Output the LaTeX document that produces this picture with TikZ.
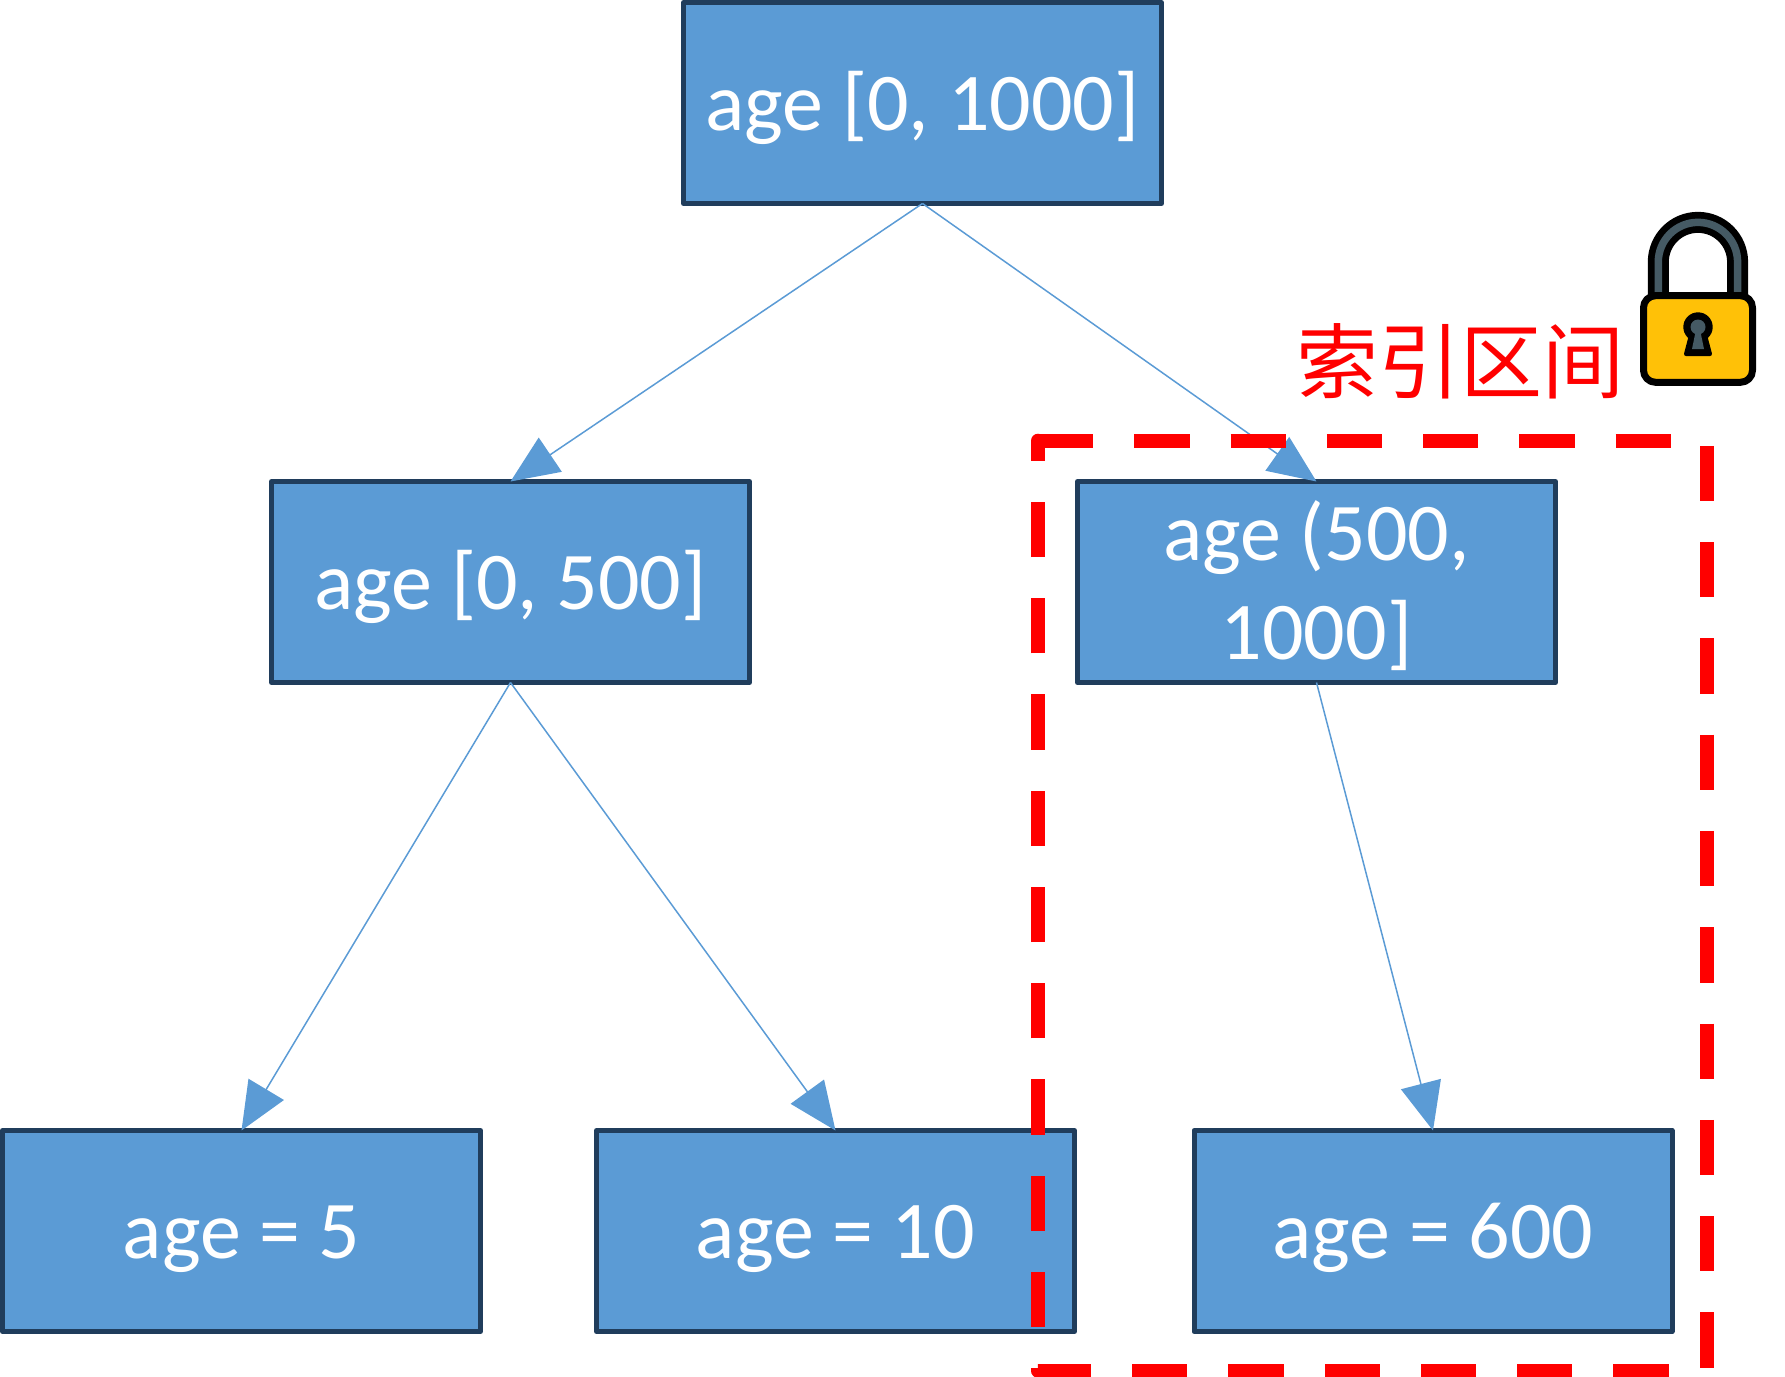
\documentclass[tikz,border=0pt]{standalone}
\usepackage{fontspec}
\setmainfont{Carlito}
\newfontfamily\cjkfont{Noto Sans CJK SC}
\usepackage{tikz}
\usetikzlibrary{arrows.meta}

\definecolor{boxfill}{HTML}{5B9BD5}
\definecolor{boxline}{HTML}{203D5C}
\definecolor{lockbody}{HTML}{FFC107}
\definecolor{lockgrey}{HTML}{455A64}

\tikzset{
    agebox/.style={draw=boxline,fill=boxfill,line width=2.5pt,line join=round,
        minimum width=239pt,minimum height=100.5pt,inner sep=0pt,outer sep=0pt,
        text=white,align=center,font=\fontsize{41}{49.5}\selectfont},
    ageline/.style={agebox,text height=27.5pt,text depth=0pt},
    agelink/.style={draw=boxfill,line width=.75pt,
        -{Triangle[length=24pt,width=20.5pt,fill=boxfill]}},
    rangeline/.style={draw=red,line width=7pt,line join=round,
        dash pattern=on 27.65pt off 20.485pt},
    rangetext/.style={text=red,inner sep=0pt,font=\fontsize{41}{41}\cjkfont}
}

\begin{document}
\begin{tikzpicture}[x=.5pt,y=-.5pt]
    \useasboundingbox (0,0) rectangle (1785,1377);

    \node[ageline] (root) at (922.5,103) {age [0, 1000]};
    \node[ageline] (low) at (510.5,582) {age [0, 500]};
    \node[agebox] (high) at (1316.5,582) {\rule{0pt}{33.8pt}age (500,\\1000]};
    \node[ageline] (five) at (241.5,1231) {age = 5};
    \node[ageline] (ten) at (835.5,1231) {age = 10};
    \node[ageline] (six) at (1433,1231) {age = 600};

    \draw[agelink] (root.south) -- (low.north);
    \draw[agelink] (root.south) -- (high.north);
    \draw[agelink] (low.south) -- (five.north);
    \draw[agelink] (low.south) -- (ten.north);
    \draw[agelink] (high.south) -- (six.north);

    % range of the index
    \coordinate (rangeA) at (1038,440.7);
    \coordinate (rangeB) at (1706.7,440.7);
    \coordinate (rangeC) at (1706.7,1370.5);
    \coordinate (rangeD) at (1038,1370.5);
    \draw[rangeline] (rangeA) -- (rangeB) -- (rangeC) -- (rangeD) -- cycle;
    \fill[red] (rangeA) circle (3.5pt);
    \node[rangetext] (rangelabel) at (1460,361) {索引区间};

    % lock
    \draw[black,line width=10.5pt] (1658.3,296) -- (1658.3,262) arc (180:360:39.65) -- (1737.6,296);
    \draw[lockgrey,line width=3.75pt] (1658.3,292) -- (1658.3,262) arc (180:360:39.65) -- (1737.6,292);
    \draw[fill=lockbody,draw=black,line width=3.5pt,line join=round,rounded corners=6pt]
        (1643.5,295.7) rectangle (1752.5,382.3);
    \fill[black] (1698,327) circle (7.35pt);
    \fill[black,draw=black,line width=2pt,line join=round] (1691,335) -- (1705,335) -- (1710,354) -- (1686,354) -- cycle;
    \fill[lockgrey] (1698,327) circle (3.75pt);
    \fill[lockgrey] (1695.5,332) -- (1700.5,332) -- (1704,349) -- (1692,349) -- cycle;
\end{tikzpicture}
\end{document}
